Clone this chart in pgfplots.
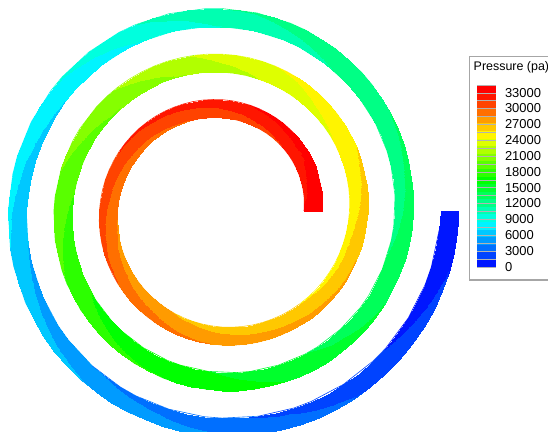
\documentclass[border=0pt]{standalone}
\usepackage{pgfplots}
\pgfplotsset{compat=1.18}
\usepackage{pgfplotstable}
\usepackage{fontspec}
\setmainfont{Liberation Sans}

% spiral channel: angle (deg), radius (px from centre), pressure (Pa)
% two rows per station: inner wall, outer wall
\pgfplotstableread{
a r p
0 81.9 33300
0 99.9 34100
5 82.5 33100
5 100.5 34100
10 83.2 32900
10 101.2 34100
15 83.8 32800
15 101.8 34000
20 84.4 32700
20 102.4 33900
25 85.1 32600
25 103.1 33800
30 85.7 32500
30 103.7 33700
35 86.3 32150
35 104.3 33850
40 87.0 31800
40 105.0 34000
45 87.6 31690
45 105.6 33890
50 88.2 31570
50 106.2 33770
55 88.9 31440
55 106.9 33640
60 89.5 31300
60 107.5 33500
65 90.1 31170
65 108.1 33370
70 90.8 31030
70 108.8 33230
75 91.4 30900
75 109.4 33100
80 92.0 30770
80 110.0 32970
85 92.7 30640
85 110.7 32840
90 93.3 30500
90 111.3 32700
95 93.9 30410
95 111.9 32610
100 94.6 30320
100 112.6 32520
105 95.2 30230
105 113.2 32430
110 95.8 30140
110 113.8 32340
115 96.4 30060
115 114.4 32260
120 97.1 29970
120 115.1 32170
125 97.7 29880
125 115.7 32080
130 98.3 29790
130 116.3 31990
135 99.0 29700
135 117.0 31900
140 99.6 29610
140 117.6 31810
145 100.2 29520
145 118.2 31720
150 100.9 29430
150 118.9 31630
155 101.5 29350
155 119.5 31550
160 102.1 29260
160 120.1 31460
165 102.8 29170
165 120.8 31370
170 103.4 29080
170 121.4 31280
175 104.0 28990
175 122.0 31190
180 104.7 28900
180 122.7 31100
185 105.3 28770
185 123.3 30970
190 105.9 28630
190 123.9 30830
195 106.6 28500
195 124.6 30700
200 107.2 28370
200 125.2 30570
205 107.8 28240
205 125.8 30440
210 108.5 28100
210 126.5 30300
215 109.1 27970
215 127.1 30170
220 109.7 27830
220 127.7 30030
225 110.4 27700
225 128.4 29900
230 111.0 27570
230 129.0 29770
235 111.6 27490
235 129.6 29590
240 112.3 27400
240 130.3 29400
245 112.9 27270
245 130.9 29270
250 113.5 27130
250 131.5 29130
255 114.2 27000
255 132.2 29000
260 114.8 26870
260 132.8 28870
265 115.4 26740
265 133.4 28740
270 116.1 26600
270 134.1 28600
275 116.7 26510
275 134.7 28510
280 117.3 26420
280 135.3 28420
285 118.0 26330
285 136.0 28330
290 118.6 26240
290 136.6 28240
295 119.2 26160
295 137.2 28160
300 119.9 26070
300 137.9 28070
305 120.5 25980
305 138.5 27980
310 121.1 25890
310 139.1 27890
315 121.7 25800
315 139.7 27800
320 122.4 25700
320 140.4 27700
325 123.0 25600
325 141.0 27600
330 123.6 25500
330 141.6 27500
335 124.3 25400
335 142.3 27400
340 124.9 25300
340 142.9 27300
345 125.5 25350
345 143.5 27050
350 126.2 25400
350 144.2 26800
355 126.8 25300
355 144.8 26700
360 127.4 25200
360 145.4 26600
365 128.1 25070
365 146.1 26470
370 128.7 24930
370 146.7 26330
375 129.3 24800
375 147.3 26200
380 130.0 24670
380 148.0 26070
385 130.6 24590
385 148.6 25890
390 131.2 24500
390 149.2 25700
395 131.9 24370
395 149.9 25570
400 132.5 24230
400 150.5 25430
405 133.1 24070
405 151.1 25270
410 133.8 23910
410 151.8 25110
415 134.4 23720
415 152.4 24920
420 135.0 23530
420 153.0 24730
425 135.7 23350
425 153.7 24550
430 136.3 23160
430 154.3 24360
435 136.9 22970
435 154.9 24170
440 137.6 22780
440 155.6 23980
445 138.2 22590
445 156.2 23790
450 138.8 22400
450 156.8 23600
455 139.5 22160
455 157.5 23360
460 140.1 21910
460 158.1 23110
465 140.7 21670
465 158.7 22870
470 141.4 21420
470 159.4 22620
475 142.0 21180
475 160.0 22380
480 142.6 20930
480 160.6 22130
485 143.3 20690
485 161.3 21890
490 143.9 20440
490 161.9 21640
495 144.5 20220
495 162.5 21420
500 145.2 20000
500 163.2 21200
505 145.8 19800
505 163.8 21000
510 146.4 19600
510 164.4 20800
515 147.0 19400
515 165.0 20600
520 147.7 19200
520 165.7 20400
525 148.3 19000
525 166.3 20200
530 148.9 18800
530 166.9 20000
535 149.6 18600
535 167.6 19800
540 150.2 18400
540 168.2 19600
545 150.8 18200
545 168.8 19400
550 151.5 18000
550 169.5 19200
555 152.1 17800
555 170.1 19000
560 152.7 17600
560 170.7 18800
565 153.4 17450
565 171.4 18550
570 154.0 17300
570 172.0 18300
575 154.6 17100
575 172.6 18100
580 155.3 16900
580 173.3 17900
585 155.9 16750
585 173.9 17750
590 156.5 16590
590 174.5 17590
595 157.2 16480
595 175.2 17480
600 157.8 16370
600 175.8 17370
605 158.4 16260
605 176.4 17260
610 159.1 16140
610 177.1 17140
615 159.7 16030
615 177.7 17030
620 160.3 15920
620 178.3 16920
625 161.0 15810
625 179.0 16810
630 161.6 15700
630 179.6 16700
635 162.2 15490
635 180.2 16490
640 162.9 15280
640 180.9 16280
645 163.5 15070
645 181.5 16070
650 164.1 14860
650 182.1 15860
655 164.8 14650
655 182.8 15650
660 165.4 14430
660 183.4 15430
665 166.0 14220
665 184.0 15220
670 166.7 14010
670 184.7 15010
675 167.3 13840
675 185.3 14840
680 167.9 13660
680 185.9 14660
685 168.6 13520
685 186.6 14520
690 169.2 13370
690 187.2 14370
695 169.8 13230
695 187.8 14230
700 170.5 13080
700 188.5 14080
705 171.1 12940
705 189.1 13940
710 171.7 12790
710 189.7 13790
715 172.3 12650
715 190.3 13650
720 173.0 12500
720 191.0 13500
725 173.6 12410
725 191.6 13410
730 174.2 12320
730 192.2 13320
735 174.9 12230
735 192.9 13230
740 175.5 12140
740 193.5 13140
745 176.1 12060
745 194.1 13060
750 176.8 11970
750 194.8 12970
755 177.4 11880
755 195.4 12880
760 178.0 11790
760 196.0 12790
765 178.7 11670
765 196.7 12670
770 179.3 11540
770 197.3 12540
775 179.9 11390
775 197.9 12390
780 180.6 11230
780 198.6 12230
785 181.2 11080
785 199.2 12080
790 181.8 10920
790 199.8 11920
795 182.5 10770
795 200.5 11770
800 183.1 10610
800 201.1 11610
805 183.7 10360
805 201.7 11560
810 184.4 10100
810 202.4 11500
815 185.0 9810
815 203.0 11210
820 185.6 9520
820 203.6 10920
825 186.3 9230
825 204.3 10630
830 186.9 8940
830 204.9 10340
835 187.5 8660
835 205.5 10060
840 188.2 8370
840 206.2 9770
845 188.8 8080
845 206.8 9480
850 189.4 7790
850 207.4 9190
855 190.1 7570
855 208.1 8970
860 190.7 7340
860 208.7 8740
865 191.3 7190
865 209.3 8590
870 192.0 7030
870 210.0 8430
875 192.6 6880
875 210.6 8280
880 193.2 6720
880 211.2 8120
885 193.9 6570
885 211.9 7970
890 194.5 6410
890 212.5 7810
895 195.1 6260
895 213.1 7660
900 195.8 6100
900 213.8 7500
905 196.4 5940
905 214.4 7340
910 197.0 5770
910 215.0 7170
915 197.6 5600
915 215.6 7000
920 198.3 5430
920 216.3 6830
925 198.9 5270
925 216.9 6670
930 199.5 5100
930 217.5 6500
935 200.2 4940
935 218.2 6340
940 200.8 4770
940 218.8 6170
945 201.4 4600
945 219.4 6000
950 202.1 4430
950 220.1 5830
955 202.7 4270
955 220.7 5670
960 203.3 4100
960 221.3 5500
965 204.0 3940
965 222.0 5340
970 204.6 3770
970 222.6 5170
975 205.2 3600
975 223.2 5000
980 205.9 3430
980 223.9 4830
985 206.5 3270
985 224.5 4670
990 207.1 3100
990 225.1 4500
995 207.8 2910
995 225.8 4310
1000 208.4 2720
1000 226.4 4120
1005 209.0 2630
1005 227.0 3830
1010 209.7 2540
1010 227.7 3540
1015 210.3 2360
1015 228.3 3360
1020 210.9 2170
1020 228.9 3170
1025 211.6 1980
1025 229.6 2980
1030 212.2 1790
1030 230.2 2790
1035 212.8 1600
1035 230.8 2600
1040 213.5 1410
1040 231.5 2410
1045 214.1 1220
1045 232.1 2220
1050 214.7 1030
1050 232.7 2030
1055 215.4 850
1055 233.4 1850
1060 216.0 660
1060 234.0 1660
1065 216.6 570
1065 234.6 1370
1070 217.3 480
1070 235.3 1080
1075 217.9 370
1075 235.9 820
1080 218.5 250
1080 236.5 550
}\spiral

\begin{document}
\begin{tikzpicture}
\begin{axis}[
  scale only axis, width=548bp, height=432bp,
  xmin=-222.1, xmax=325.9, ymin=-221, ymax=211,
  hide axis,
  colormap={tec}{
    rgb255=(0,22,255) rgb255=(0,67,255) rgb255=(0,111,255) rgb255=(0,155,255)
    rgb255=(0,200,255) rgb255=(0,244,255) rgb255=(0,255,222) rgb255=(0,255,177)
    rgb255=(0,255,133) rgb255=(0,255,89) rgb255=(0,255,44) rgb255=(0,255,0)
    rgb255=(44,255,0) rgb255=(89,255,0) rgb255=(133,255,0) rgb255=(177,255,0)
    rgb255=(222,255,0) rgb255=(255,244,0) rgb255=(255,200,0) rgb255=(255,155,0)
    rgb255=(255,111,0) rgb255=(255,67,0) rgb255=(255,22,0) rgb255=(255,0,0)},
  colormap access=piecewise constant,
  point meta min=0, point meta max=34500,
  colorbar,
  colorbar shift/.style={xshift=0pt},
  colorbar style={
    at={(477bp,165.3bp)}, anchor=south west,
    scale only axis, width=19bp, height=181.9bp,
    colormap access=piecewise constant,
    ytick={0,3000,...,33000},
    minor ytick={1500,4500,...,33000},
    ymajorgrids, yminorgrids,
    grid style={black!30, line width=0.35bp},
    minor grid style={black!30, line width=0.35bp},
    axis on top,
    scaled y ticks=false,
    yticklabel style={font=\fontsize{13}{15}\selectfont,
      /pgf/number format/1000 sep={},
      /pgf/number format/assume math mode=true,
      anchor=west, xshift=5.5bp},
    major tick length=0pt, minor tick length=0pt,
    axis line style={draw=none},
  },
]
\addplot[surf, shader=interp, mesh/cols=2, point meta=explicit, data cs=polar]
  table[x=a, y=r, meta=p] {\spiral};
% smooth anti-aliased walls: inner wall (even rows) and outer wall (odd rows)
\addplot[mesh, line width=0.6bp, point meta=explicit, data cs=polar,
  unbounded coords=discard,
  x filter/.expression={mod(\coordindex,2)==0 ? x : nan}]
  table[x=a, y=r, meta=p] {\spiral};
\addplot[mesh, line width=0.6bp, point meta=explicit, data cs=polar,
  unbounded coords=discard,
  x filter/.expression={mod(\coordindex,2)==1 ? x : nan}]
  table[x=a, y=r, meta=p] {\spiral};
\end{axis}
\draw[gray!70, line width=1.2bp] (469.7bp,152bp) rectangle (560bp,375.3bp);
\node[anchor=west, inner sep=0pt, font=\fontsize{12.5}{14}\selectfont] at (473.5bp,364.4bp) {Pressure (pa)};
\pgfresetboundingbox
\path[use as bounding box] (0,0) rectangle (548bp,432bp);
\end{tikzpicture}
\end{document}
